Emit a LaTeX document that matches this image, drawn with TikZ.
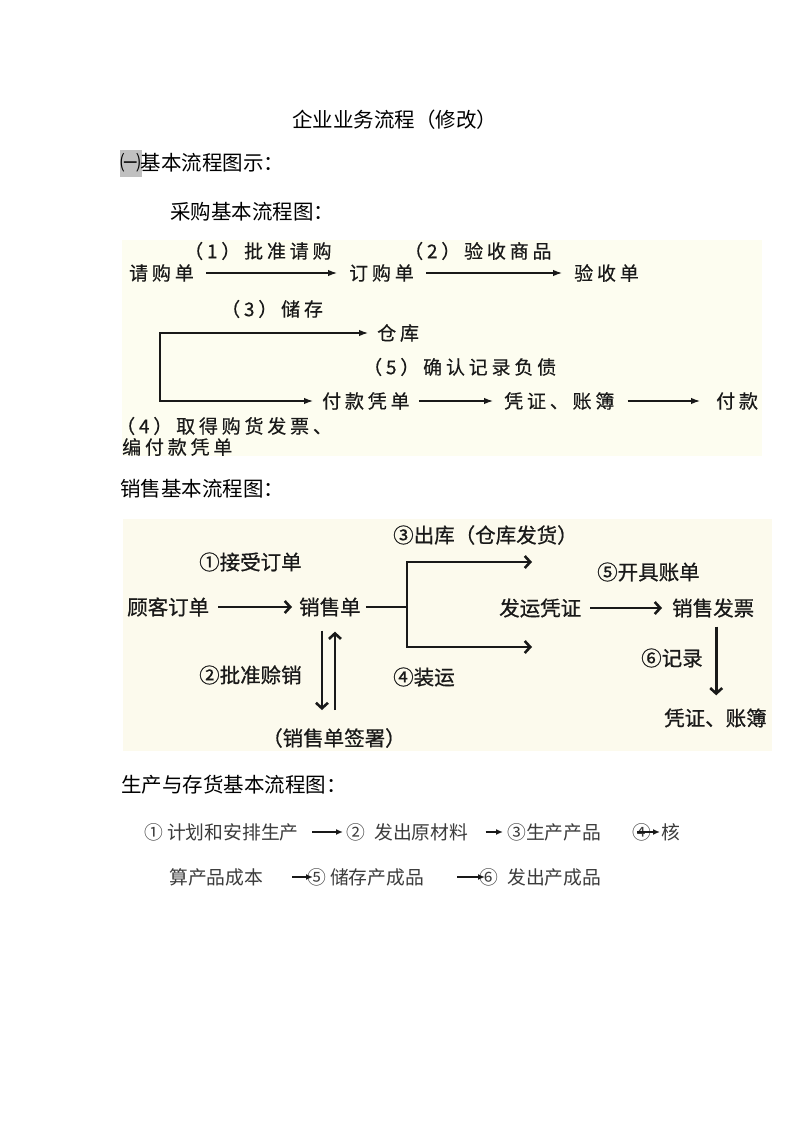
\documentclass[tikz,border=0pt]{standalone}
\usepackage{fontspec}
\setmainfont{Noto Sans CJK SC}
\newfontfamily\purfont[LetterSpace=20, FakeBold=0.4]{Noto Sans CJK SC}
\newfontfamily\salefont[FakeBold=0.7]{Noto Sans CJK SC}
\usetikzlibrary{arrows.meta, positioning}
\definecolor{purbg}{RGB}{253, 253, 240}
\definecolor{salebg}{RGB}{252, 250, 237}
\definecolor{hlgray}{RGB}{192, 192, 192}
\definecolor{ink}{RGB}{25, 25, 25}

\begin{document}
\begin{tikzpicture}[x=1pt, y=-1pt,
    every node/.style={inner sep=0pt, anchor=west, text=ink},
    head/.style={font=\fontsize{20.5}{24}\selectfont, text=black},
    ptext/.style={font=\purfont\fontsize{19}{22}\selectfont},
    stext/.style={font=\salefont\fontsize{20.5}{24}\selectfont},
    mtext/.style={font=\fontsize{18.8}{22}\selectfont, text=ink!85},
    parrow/.style={-{Latex[length=9pt,width=6.5pt]}, line width=1.3pt, draw=ink,
                   shorten <=12pt, shorten >=12pt},
    sarrow/.style={-{Straight Barb[length=5.5pt,width=12pt]}, line width=2.6pt, draw=ink},
    marrow/.style={-{Latex[length=7pt,width=6pt]}, line width=1.4pt, draw=ink}
  ]
  \useasboundingbox (0,0) rectangle (800,1131);

  % headings
  \node[head] (title) at (292,120) {企业业务流程（修改）};
  \fill[hlgray] (120,150) rectangle (142,177);
  \node[head] (sec) at (120,163) {㈠基本流程图示：};
  \node[head] (hpur) at (170,212) {采购基本流程图：};
  \node[head] (hsale) at (120,489) {销售基本流程图：};
  \node[head] (hmfg) at (121,785) {生产与存货基本流程图：};

  % purchase
  \fill[purbg] (122,240) rectangle (762,456);
  \node[ptext] (req)   at (129,273) {请购单};
  \node[ptext] (po)    at (349,273) {订购单};
  \node[ptext] (recv)  at (574,273) {验收单};
  \node[ptext] (l1)    at (184,251) {（1）批准请购};
  \node[ptext] (l2)    at (404,251) {（2）验收商品};
  \node[ptext] (l3)    at (221,309) {（3）储存};
  \node[ptext] (store) at (377,333) {仓库};
  \node[ptext] (l5)    at (363,367) {（5）确认记录负债};
  \node[ptext] (pay)   at (322,401) {付款凭单};
  \node[ptext] (books) at (504,401) {凭证、账簿};
  \node[ptext] (paid)  at (716,401) {付款};
  \node[ptext] (l4a)   at (116,426) {（4）取得购货发票、};
  \node[ptext] (l4b)   at (122,447) {编付款凭单};
  \coordinate (split) at (160,333);

  \draw[parrow] (req) -- (po);
  \draw[parrow] (po) -- (recv);
  \draw[parrow, shorten <=0pt, shorten >=9pt] (split) -- (store);
  \draw[parrow, shorten <=0pt, shorten >=9pt] ([yshift=0.65pt]split) |- (pay);
  \draw[parrow, shorten <=9pt, shorten >=11pt] (pay) -- (books);
  \draw[parrow, shorten <=13pt, shorten >=16pt] (books) -- (paid);

  % sales
  \fill[salebg] (123,519) rectangle (772,751);
  \node[stext] (cust)   at (127,607) {顾客订单};
  \node[stext] (sorder) at (299,607) {销售单};
  \node[stext] (ship)   at (499,608) {发运凭证};
  \node[stext] (inv)    at (672,608) {销售发票};
  \node[stext] (sbooks) at (664,718) {凭证、账簿};
  \node[stext] (sign)   at (262,738) {（销售单签署）};
  \node[stext] (s1) at (199,562) {①接受订单};
  \node[stext] (s2) at (199,675) {②批准赊销};
  \node[stext] (s3) at (393,535) {③出库（仓库发货）};
  \node[stext] (s4) at (393,677) {④装运};
  \node[stext] (s5) at (597,572) {⑤开具账单};
  \node[stext] (s6) at (641,658) {⑥记录};
  \coordinate (fork) at (407,607);
  \coordinate (out3) at (532,562);
  \coordinate (out4) at (532,647);

  \draw[sarrow, shorten <=9pt, shorten >=7pt] (cust) -- (sorder);
  \draw[line width=2.6pt, draw=ink, shorten <=5pt] (sorder) -- (fork);
  \draw[sarrow] (fork) |- (out3);
  \draw[sarrow] (fork) |- (out4);
  \draw[sarrow, shorten <=14pt, shorten >=18pt]
    ([xshift=-8pt]sorder.south) -- ([xshift=-8pt]sorder.south |- sign.north);
  \draw[sarrow, shorten <=18pt, shorten >=15pt]
    ([xshift=5pt]sorder.south |- sign.north) -- ([xshift=5pt]sorder.south);
  \draw[sarrow, shorten <=9pt, shorten >=10pt] (ship) -- (inv);
  \draw[sarrow, shorten <=9pt, shorten >=13pt]
    ([xshift=3pt]inv.south) -- ([xshift=3pt]inv.south |- sbooks.north);

  % production and inventory
  \node[mtext] (m1)  at (144,832) {① 计划和安排生产};
  \node[mtext] (m2)  at (346,832) {②\enspace 发出原材料};
  \node[mtext] (m3)  at (507,832) {③生产产品};
  \node[mtext] (m4)  at (632,832) {④};
  \node[mtext] (m4b) at (661,832) {核};
  \node[mtext] (m4c) at (169,877) {算产品成本};
  \node[mtext] (m5)  at (307,877) {⑤ 储存产成品};
  \node[mtext] (m6)  at (479,877) {⑥\enspace 发出产成品};

  \draw[marrow, shorten <=13pt, shorten >=3pt] (m1) -- (m2);
  \draw[marrow, shorten <=17pt, shorten >=4pt] (m2) -- (m3);
  \draw[marrow, shorten <=-14pt, shorten >=1pt] (m4) -- (m4b);
  \draw[marrow, shorten <=29pt, shorten >=-6pt] (m4c) -- (m5);
  \draw[marrow, shorten <=33pt, shorten >=-6pt] (m5) -- (m6);
\end{tikzpicture}
\end{document}
